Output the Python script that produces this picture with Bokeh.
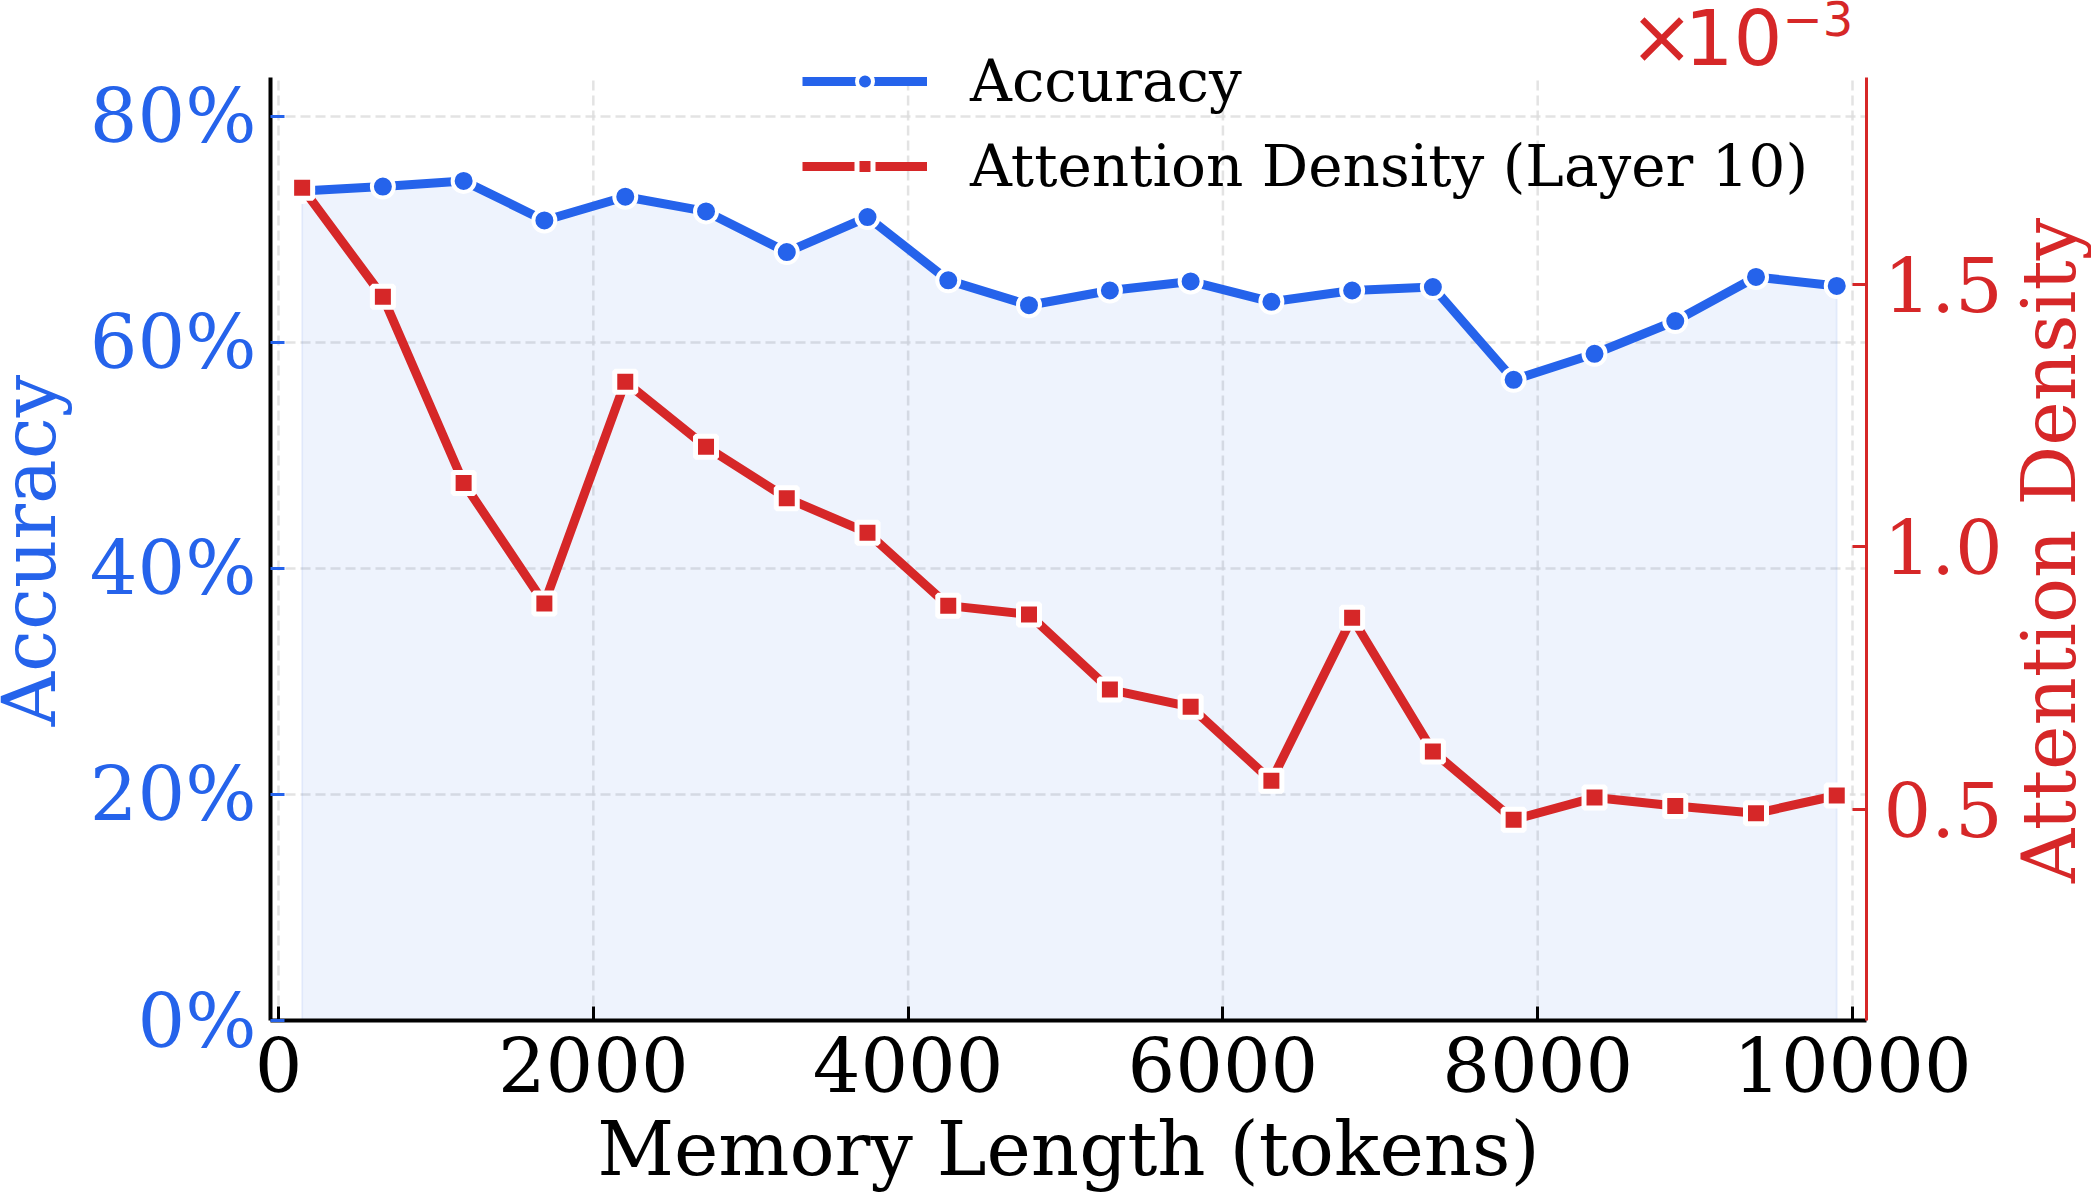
import math
from bokeh.plotting import figure
from bokeh.layouts import row
from bokeh.models import (Range1d, LinearAxis, FixedTicker, NumeralTickFormatter,
                          CustomJSTickFormatter, Legend, LegendItem, Label)
from bokeh.core.properties import value
from bokeh.embed import file_html
from bokeh.resources import INLINE

# ---- data ----
memory_length = [150, 663, 1176, 1689, 2203, 2716, 3229, 3742, 4255, 4768,
                 5282, 5795, 6308, 6821, 7334, 7847, 8361, 8874, 9387, 9900]
accuracy = [0.734, 0.738, 0.743, 0.708, 0.729, 0.716, 0.680, 0.711, 0.655, 0.633,
            0.646, 0.654, 0.636, 0.646, 0.649, 0.567, 0.590, 0.619, 0.658, 0.650]
attention_density = [1.685e-3, 1.477e-3, 1.122e-3, 0.892e-3, 1.315e-3, 1.191e-3, 1.093e-3,
                     1.027e-3, 0.888e-3, 0.871e-3, 0.728e-3, 0.695e-3, 0.554e-3, 0.865e-3,
                     0.610e-3, 0.480e-3, 0.522e-3, 0.506e-3, 0.492e-3, 0.526e-3]
x_ticks = [0, 2000, 4000, 6000, 8000, 10000]
acc_ticks = [0.0, 0.2, 0.4, 0.6, 0.8]
dens_ticks = [0.5e-3, 1.0e-3, 1.5e-3]
x_label = "Memory Length (tokens)"
acc_label = "Accuracy"
dens_label = "Attention Density"
acc_legend = "Accuracy"
dens_legend = "Attention Density (Layer 10)"

# visible axes limits
X_LO, X_HI = -51, 10089
ACC_LO, ACC_HI = 0.0, 0.8345
DEN_LO, DEN_HI = 0.097e-3, 1.895e-3

BLUE = "#2563eb"
RED = "#d62728"
SERIF = "DejaVu Serif"
SANS = "DejaVu Sans"

W, H = 2091, 1197
L, R, T, B = 270, 1866, 77, 1020      # visible axes box in page pixels
LW, RW = 76, 81                       # side strips holding the rotated y labels
MAIN_W = W - LW - RW
TOP = 0                               # frame reaches the top so legend/offset text are not clipped
ext = (B - TOP) / (B - T)
LABEL_CY = 550                        # page y of the y-label centres
BASE_SHIFT = 27                       # bokeh places the alphabetic baseline ~0.36em lower

p = figure(width=MAIN_W, height=H, output_backend="svg", toolbar_location=None,
           x_range=Range1d(X_LO, X_HI),
           y_range=Range1d(ACC_LO, ACC_LO + (ACC_HI - ACC_LO) * ext),
           min_border_left=L - LW, min_border_right=LW + MAIN_W - R,
           min_border_top=TOP, min_border_bottom=H - B)
p.outline_line_color = None
p.background_fill_color = "white"
p.border_fill_color = "white"
p.extra_y_ranges = {"dens": Range1d(DEN_LO, DEN_LO + (DEN_HI - DEN_LO) * ext)}

GRID_COLOR = "#dcdcdc"
g = p.ygrid[0]
g.ticker = FixedTicker(ticks=acc_ticks)
g.grid_line_color = GRID_COLOR
g.grid_line_alpha = 0.8
g.grid_line_width = 2.5
g.grid_line_dash = "10 5"
p.xgrid[0].grid_line_color = None
p.segment(x0=x_ticks, y0=[ACC_LO] * len(x_ticks), x1=x_ticks, y1=[ACC_HI] * len(x_ticks),
          line_color=GRID_COLOR, line_alpha=0.8, line_width=2.5, line_dash="10 5",
          level="underlay")

xa = p.xaxis[0]
xa.ticker = FixedTicker(ticks=x_ticks)
xa.axis_label = x_label
ya = p.yaxis[0]
ya.ticker = FixedTicker(ticks=acc_ticks)
ya.formatter = NumeralTickFormatter(format="0%")
ya.bounds = (ACC_LO, ACC_HI)
ra = LinearAxis(y_range_name="dens", ticker=FixedTicker(ticks=dens_ticks),
                formatter=CustomJSTickFormatter(code="return (tick*1000).toFixed(1);"),
                bounds=(DEN_LO, DEN_HI))
p.add_layout(ra, "right")

for ax, col in ((xa, "black"), (ya, BLUE), (ra, RED)):
    ax.axis_line_color = "black" if ax is not ra else RED
    ax.axis_line_width = 4 if ax is not ra else 3
    ax.major_tick_line_color = col
    ax.major_tick_line_width = 3
    ax.major_tick_in = 14
    ax.major_tick_out = 0
    ax.minor_tick_line_color = None
    ax.major_label_text_font = SERIF
    ax.major_label_text_font_size = "75px"
    ax.major_label_text_color = col
    ax.axis_label_text_font = SERIF
    ax.axis_label_text_font_size = "75px"
    ax.axis_label_text_font_style = "normal"
    ax.axis_label_text_color = col
xa.major_label_standoff = 16
xa.axis_label_standoff = 10
ya.major_label_standoff = 14
ra.major_label_standoff = 17

# fill under accuracy
px = [memory_length[0]] + memory_length + [memory_length[-1]]
py = [0] + accuracy + [0]
p.patch(px, py, fill_color=BLUE, fill_alpha=0.08, line_color=BLUE, line_alpha=0.08,
        line_width=2)

acc_line = p.line(memory_length, accuracy, line_color=BLUE, line_width=9,
                  line_join="round")
acc_pts = p.scatter(memory_length, accuracy, marker="circle", size=22,
                    fill_color=BLUE, line_color="white", line_width=4)

den_line = p.line(memory_length, attention_density, y_range_name="dens",
                  line_color=RED, line_width=9, line_join="round")
den_pts = p.scatter(memory_length, attention_density, y_range_name="dens",
                    marker="square", size=21, fill_color=RED, line_color="white",
                    line_width=5)

legend = Legend(items=[
    LegendItem(label=acc_legend, renderers=[acc_line, acc_pts]),
    LegendItem(label=dens_legend, renderers=[den_line, den_pts]),
], location=(532, 820))
legend.background_fill_alpha = 0
legend.border_line_alpha = 0
legend.label_text_font = SERIF
legend.label_text_font_size = "58px"
legend.label_text_color = "black"
legend.glyph_width = 125
legend.glyph_height = 40
legend.label_standoff = 43
legend.padding = 0
legend.margin = 0
legend.spacing = 17
p.add_layout(legend, "center")

# offset text of the right axis: x10^-3 (baselines at page y 65 and 36)
p.add_layout(Label(x=1359, y=B - 65 + 29, x_units="screen", y_units="screen",
                   text="×", text_font=SANS, text_font_size="77px",
                   text_color=RED, text_baseline="alphabetic", text_align="left"))
p.add_layout(Label(x=1414, y=B - 65 + 29, x_units="screen", y_units="screen",
                   text="10", text_font=SANS, text_font_size="77px",
                   text_color=RED, text_baseline="alphabetic", text_align="left"))
p.add_layout(Label(x=1512, y=B - 36 + 18, x_units="screen", y_units="screen",
                   text="−3", text_font=SANS, text_font_size="48px",
                   text_color=RED, text_baseline="alphabetic", text_align="left"))


def label_strip(width, text, color, baseline_x):
    f = figure(width=width, height=H, output_backend="svg", toolbar_location=None,
               x_range=Range1d(0, width), y_range=Range1d(H - B, H - TOP),
               x_axis_location=None, y_axis_location=None,
               min_border_left=0, min_border_right=0, min_border_top=TOP,
               min_border_bottom=H - B)
    f.outline_line_color = None
    f.grid.visible = False
    f.background_fill_color = "white"
    f.border_fill_color = "white"
    f.text(x=[baseline_x - BASE_SHIFT], y=[H - LABEL_CY], text=[text], angle=math.pi / 2,
           text_align="center", text_baseline="alphabetic",
           text_font=value(SERIF), text_font_size=value("75px"), text_color=color)
    return f


left_strip = label_strip(LW, acc_label, BLUE, 55)
right_strip = label_strip(RW, dens_label, RED, 2075 - (W - RW))

layout = row(left_strip, p, right_strip, spacing=0)
open("out.html", "w").write(file_html(layout, INLINE))
